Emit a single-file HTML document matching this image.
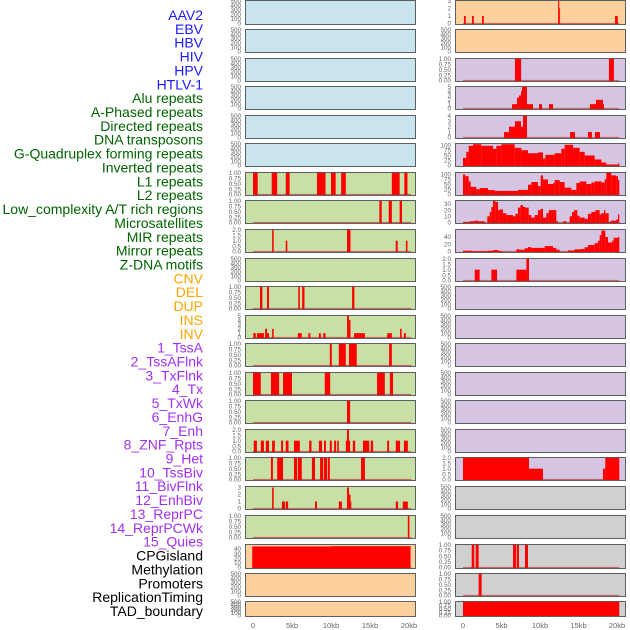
<!DOCTYPE html>
<html><head><meta charset="utf-8">
<style>
html,body{margin:0;padding:0;background:#fff;}
svg{display:block;font-family:"Liberation Sans",sans-serif;}
</style></head>
<body>
<svg id="chart" width="630" height="630" viewBox="0 0 630 630" xmlns="http://www.w3.org/2000/svg"></svg>
<script>
const trackLabels = ["AAV2","EBV","HBV","HIV","HPV","HTLV-1","Alu repeats","A-Phased repeats","Directed repeats","DNA transposons","G-Quadruplex forming repeats","Inverted repeats","L1 repeats","L2 repeats","Low_complexity A/T rich regions","Microsatellites","MIR repeats","Mirror repeats","Z-DNA motifs","CNV","DEL","DUP","INS","INV","1_TssA","2_TssAFlnk","3_TxFlnk","4_Tx","5_TxWk","6_EnhG","7_Enh","8_ZNF_Rpts","9_Het","10_TssBiv","11_BivFlnk","12_EnhBiv","13_ReprPC","14_ReprPCWk","15_Quies","CPGisland","Methylation","Promoters","ReplicationTiming","TAD_boundary"];
const labelColors = ["#1a1aff","#1a1aff","#1a1aff","#1a1aff","#1a1aff","#1a1aff","#006400","#006400","#006400","#006400","#006400","#006400","#006400","#006400","#006400","#006400","#006400","#006400","#006400","#ffa500","#ffa500","#ffa500","#ffa500","#ffa500","#a030f0","#a030f0","#a030f0","#a030f0","#a030f0","#a030f0","#a030f0","#a030f0","#a030f0","#a030f0","#a030f0","#a030f0","#a030f0","#a030f0","#a030f0","#000","#000","#000","#000","#000"];
const xTickValues = [0,5,10,15,20];
const xTickLabels = ["0","5kb","10kb","15kb","20kb"];
const T500 = [0,100,200,300,400,500];
const T1 = [0,0.25,0.5,0.75,1];
const T2 = [0,0.5,1,1.5,2];
const leftBg = ["#c9e4ec","#c9e4ec","#c9e4ec","#c9e4ec","#c9e4ec","#c9e4ec","#c8e0a5","#c8e0a5","#c8e0a5","#c8e0a5","#c8e0a5","#c8e0a5","#c8e0a5","#c8e0a5","#c8e0a5","#c8e0a5","#c8e0a5","#c8e0a5","#c8e0a5","#fdd09e","#fdd09e","#fdd09e"];
const rightBg = ["#fdd09e","#fdd09e","#d5c5e2","#d5c5e2","#d5c5e2","#d5c5e2","#d5c5e2","#d5c5e2","#d5c5e2","#d5c5e2","#d5c5e2","#d5c5e2","#d5c5e2","#d5c5e2","#d5c5e2","#d5c5e2","#d5c5e2","#d0d0d0","#d0d0d0","#d0d0d0","#d0d0d0","#d0d0d0"];
const leftYmax = [500,500,500,500,500,500,1,1,2,500,1,5,1,1,1,2,1,3.1,1,49,500,500];
const rightYmax = [3,500,1,5,4,108,108,35,60,2,500,500,500,500,500,500,2,500,500,1,1,1];
const leftTicks = [T500,T500,T500,T500,T500,T500,T1,T1,T2,T500,T1,[0,1,2,3,4,5],T1,T1,T1,T2,T1,[0,1,2,3],T1,[0,10,20,30,40],T500,T500];
const rightTicks = [[0,1,2,3],T500,T1,[0,1,2,3,4,5],[0,1,2,3,4],[0,25,50,75,100],[0,25,50,75,100],[0,10,20,30],[0,20,40],T2,T500,T500,T500,T500,T500,T500,T2,T500,T500,T1,T1,T1];
const leftSegs = [[],[],[],[],[],[],
 [[0,0.6,1],[2.4,3.1,1],[4.2,4.7,1],[8.2,9.3,1],[10.0,10.6,1],[11.3,11.9,1],[17.8,18.8,1],[19.4,19.8,1]],
 [[16.2,16.5,1],[17.4,17.8,1],[18.8,19.1,1]],
 [[2.45,2.65,2],[4.2,4.4,1],[12.05,12.5,2],[18.3,18.55,1],[19.6,19.8,1]],
 [],
 [[0.9,1.2,1],[1.8,2.05,1],[5.8,6.0,1],[6.3,6.6,1],[12.7,13.0,1]],
 [[0.05,0.35,1],[0.5,1.4,1],[1.55,1.8,2],[1.8,2.05,1],[2.45,2.65,2],[5.75,6.25,1],[7.1,7.35,1],[8.45,8.7,1],[9.0,9.3,1],[12.05,12.3,5],[12.3,12.5,4],[12.95,14.35,1],[17.2,17.8,1],[18.85,19.05,2],[19.35,19.6,1]],
 [[9.85,10.1,1],[11.0,11.9,1],[12.3,13.3,1],[17.45,17.8,1]],
 [[0,1.0,1],[2.3,3.35,1],[3.85,5.0,1],[9.2,9.9,1],[15.9,16.9,1],[17.55,17.95,1]],
 [[12.05,12.45,1]],
 [[0.1,0.5,1],[1.0,1.4,1],[1.65,2.05,1],[2.45,2.8,1],[3.6,3.85,1],[4.2,4.55,1],[5.25,6.0,1],[7.2,7.5,1],[8.45,8.85,1],[9.1,9.35,1],[9.85,10.1,1],[10.4,10.65,1],[10.8,11.0,1],[11.9,12.05,1],[12.05,12.3,2],[12.3,12.45,1],[12.8,13.1,1],[14.1,14.9,1],[15.1,15.4,1],[17.2,17.45,1],[18.3,18.85,1],[19.35,19.85,1]],
 [[2.3,2.55,1],[3.1,3.85,1],[5.25,5.65,1],[5.75,6.25,1],[7.55,7.95,1],[8.6,9.0,1],[9.1,9.5,1],[9.6,9.85,1],[13.85,14.35,1]],
 [[2.45,2.65,3],[3.7,4.1,1],[4.2,4.5,1],[7.95,8.2,1],[11.0,11.4,1],[12.05,12.3,3],[12.3,12.5,2],[12.5,12.6,1],[18.3,18.6,1],[19.2,19.85,1]],
 [[19.85,20.05,1]],
 [[-0.1,10,45.5],[10,20.2,46]],
 [],[]];
const rightSegs = [
 [[0.13,0.35,1],[1.17,1.4,1],[2.47,2.7,1],[12.35,12.5,3],[12.5,12.6,2],[19.75,20.1,1]],
 [],
 [[6.75,7.55,1],[18.95,19.6,1]],
 [[6.36,7.01,1],[7.01,7.27,2.5],[7.27,7.53,3],[7.53,7.66,4],[7.66,8.31,5],[8.31,9.09,1],[9.87,10.26,1],[11.17,11.69,1],[16.49,17.27,1],[17.27,18.18,2],[18.18,18.31,1]],
 [[5.32,5.97,1],[5.97,6.75,2],[6.75,7.53,3],[7.53,7.79,2],[7.79,8.31,4],[13.9,14.55,1],[16.23,16.75,1],[17.14,17.79,1]],
 [[0,0.43,38],[0.43,0.74,68],[0.74,1.30,98],[1.30,2.38,106],[2.38,3.90,98],[3.90,4.33,83],[4.33,4.98,98],[4.98,6.71,106],[6.71,7.58,88],[7.58,8.44,76],[8.44,9.74,61],[9.74,10.39,65],[10.39,10.69,35],[10.69,11.90,53],[11.90,12.77,61],[12.77,13.20,83],[13.20,14.29,103],[14.29,15.15,88],[15.15,15.80,68],[15.80,17.10,50],[17.10,17.97,30],[17.97,18.61,15],[18.61,20.13,5],[20.13,20.3,10]],
 [[0,0.30,100],[0.30,0.74,91],[0.74,1.00,65],[1.00,1.73,38],[1.73,2.16,26],[2.16,3.25,32],[3.25,4.11,22],[4.11,7.14,18],[7.14,8.44,23],[8.44,8.87,49],[8.87,9.74,62],[9.74,10.09,42],[10.09,10.39,95],[10.39,11.04,75],[11.04,11.69,52],[11.69,11.90,57],[11.90,12.55,72],[12.55,13.20,62],[13.20,14.07,34],[14.07,14.72,23],[14.72,15.15,57],[15.15,16.02,65],[16.02,16.67,52],[16.67,17.10,60],[17.10,17.97,65],[17.97,18.40,60],[18.40,18.61,75],[18.61,19.26,108],[19.26,19.91,95],[19.91,20.13,91],[20.13,20.3,72]],
 [[0,0.87,1],[0.87,1.52,2],[1.52,1.95,3],[1.95,2.81,2],[3.16,3.46,10],[3.46,3.68,17],[3.68,3.90,25],[3.90,4.20,35],[4.20,4.55,33],[4.55,4.76,20],[4.76,5.19,21],[5.19,5.63,15],[5.63,6.49,12],[6.49,6.80,10],[6.80,7.14,14],[7.14,7.45,24],[7.45,7.79,28],[7.79,8.10,25],[8.10,8.53,24],[8.53,8.87,12],[8.87,9.31,8],[9.31,9.74,12],[9.74,10.09,20],[10.09,10.39,22],[10.39,10.82,8],[10.82,11.13,15],[11.13,12.12,20],[12.12,12.34,2],[12.99,13.42,2],[13.85,14.16,10],[14.16,14.42,17],[14.42,14.85,20],[14.85,15.15,11],[15.15,15.80,8],[15.80,16.23,6],[16.23,16.67,14],[16.67,17.19,17],[17.19,17.75,20],[17.75,17.97,13],[17.97,18.31,15],[18.31,18.48,20],[18.48,18.92,15],[18.92,19.18,1],[19.18,19.91,3],[19.91,20.13,5],[20.13,20.3,13]],
 [[0,1.17,2],[1.17,3.16,0.5],[3.16,3.90,2],[3.90,4.55,4],[4.55,4.98,2],[6.93,7.36,6],[7.36,8.01,5],[8.01,8.44,9],[8.44,8.87,12],[8.87,10.61,10],[10.61,11.69,15],[11.69,12.12,10],[12.12,12.55,5],[13.64,14.50,3],[14.50,15.28,6],[15.28,15.80,7],[15.80,16.23,12],[16.23,17.10,18],[17.10,17.53,23],[17.53,17.75,30],[17.75,17.97,45],[17.97,18.48,58],[18.48,18.83,40],[18.83,19.35,25],[19.35,19.57,30],[19.57,20.13,38],[20.13,20.3,40]],
 [[1.52,2.16,1],[3.68,4.42,1],[6.93,8.23,1],[8.23,8.57,2]],
 [],[],[],[],[],[],
 [[0,8.57,2],[8.57,10.39,1],[18.18,18.48,1],[18.48,20.3,2]],
 [],[],
 [[1.13,1.47,1],[1.65,2.03,1],[6.5,6.88,1],[6.97,7.27,1],[8.05,8.44,1]],
 [[2.03,2.42,1]],
 [[0,20.3,1]]];

const NS = "http://www.w3.org/2000/svg";
const svg = document.getElementById('chart');
function mk(tag, attrs, parent){ const e=document.createElementNS(NS,tag); for(const k in attrs) e.setAttribute(k,attrs[k]); (parent||svg).appendChild(e); return e; }
const rowTops = [0,29,58,86,115,143,172,200,229,258,286,315,343,372,400,429,457,486,515,544,573,601];
const rowH = [25,24,24,24,24,24,24,24,24,24,24,24,24,24,24,24,24,24,24,25,24,16];
const cols = [
  {x0:245,x1:416,z:253,px:7.8,bg:leftBg,ymax:leftYmax,ticks:leftTicks,segs:leftSegs,name:'left'},
  {x0:455,x1:626,z:463,px:7.7,bg:rightBg,ymax:rightYmax,ticks:rightTicks,segs:rightSegs,name:'right'}];

trackLabels.forEach((t,i)=>{
  const el = mk('text',{x:203,y:20+i*13.86,'text-anchor':'end','font-size':'14',fill:labelColors[i]});
  el.textContent = t;
  
  
});

function fmt(v, ticks){
  const step = ticks[1]-ticks[0];
  if(step===0.25) return v.toFixed(2);
  if(step===0.5) return v.toFixed(1);
  return String(v);
}

cols.forEach(c=>{
  const xs = kb => c.z + kb*c.px;
  rowTops.forEach((top,r)=>{
    const h = rowH[r];
    const g = mk('g',{});
    
    
    mk('rect',{x:c.x0+0.5,y:top+0.5,width:c.x1-c.x0-1,height:h-1,fill:c.bg[r],stroke:'#5a5f60','stroke-width':1},g);
    const yb = top+h-1.5, yt = top+0.8;
    const ys = v => yb - (v/c.ymax[r])*(yb-yt);
    const segs = c.segs[r];
    if(segs.length){
      const base = mk('line',{x1:xs(0),x2:xs(20.3),y1:yb,y2:yb,stroke:'#c05050','stroke-width':1.2,opacity:0.8},g);
      
      
    }
    segs.forEach(s=>{
      const y = ys(s[2]);
      const b = mk('rect',{x:xs(s[0]),y:y,width:Math.max(0.8,xs(s[1])-xs(s[0])),height:yb-y+0.5,fill:'#ff0000'},g);
      
      
    });
    const tk = c.ticks[r];
    tk.forEach(v=>{
      const t = mk('text',{x:c.x0-4,y:ys(v)+2.2,'text-anchor':'end','font-size':'6.3',fill:'#666'},g);
      t.textContent = fmt(v,tk);
      
      
    });
  });
  xTickValues.forEach((v,i)=>{
    const t = mk('text',{x:xs(v),y:628,'text-anchor':'middle','font-size':'7.5',fill:'#666'});
    t.textContent = xTickLabels[i];
    
    
  });
});
</script>
</body></html>
